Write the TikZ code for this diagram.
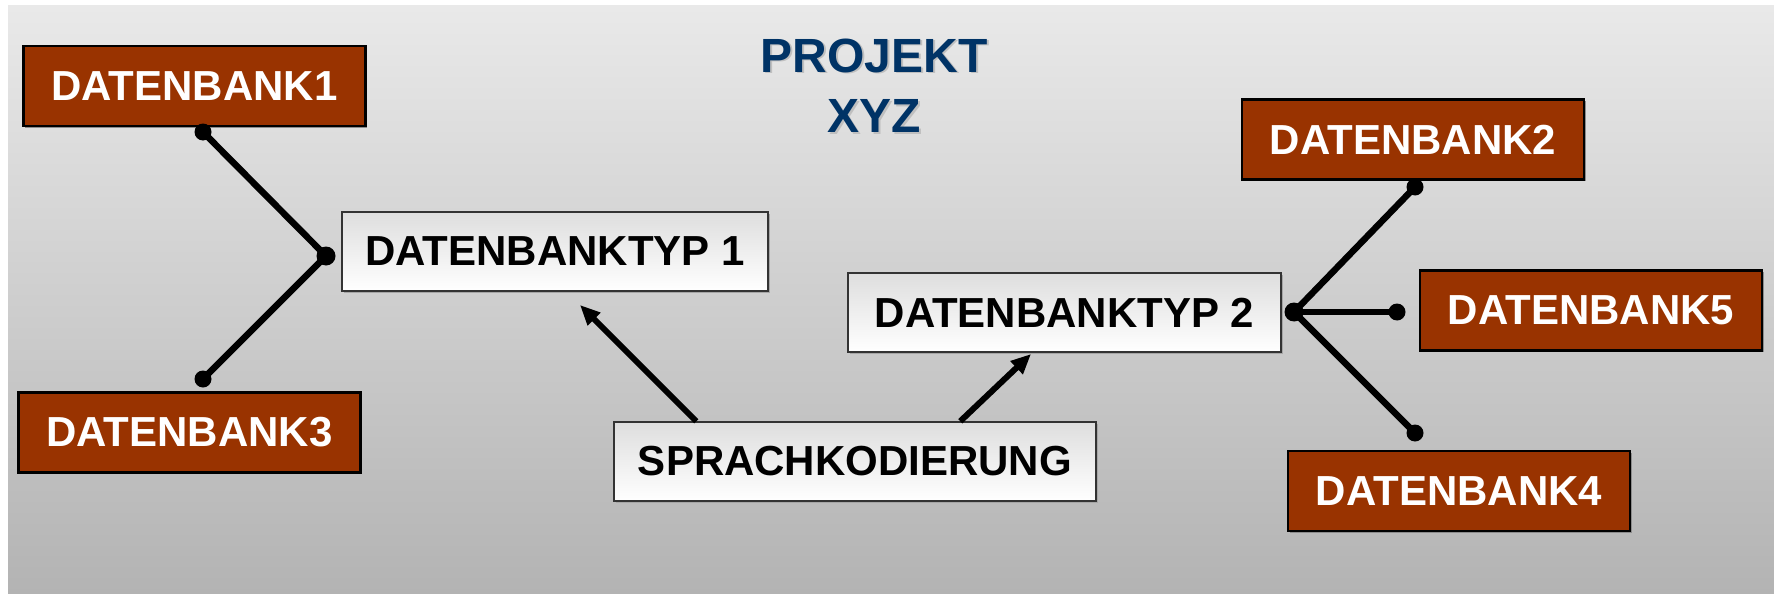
\documentclass[tikz,border=0pt]{standalone}
\usepackage{fontspec}
\setmainfont{Liberation Sans}
\usepackage{tikz}
\usetikzlibrary{arrows.meta, shadows}
\definecolor{dbbrown}{HTML}{993300}
\definecolor{titleblue}{HTML}{003366}
\definecolor{bgtop}{HTML}{E9E9E9}
\definecolor{bgbottom}{HTML}{B3B3B3}
\tikzstyle{dbbox} = [draw=black, line width=2.5pt, fill=dbbrown, text=white,
  font=\fontsize{42}{48}\selectfont\bfseries, inner sep=0pt,
  minimum width=342pt, minimum height=80pt,
  general shadow={fill=black!45, shadow xshift=1.5pt, shadow yshift=-1.5pt}]
\tikzstyle{typbox} = [draw=black!80, line width=1.5pt, top color=black!13, bottom color=white,
  font=\fontsize{42}{48}\selectfont\bfseries, inner sep=0pt, minimum height=79pt,
  general shadow={fill=black!35, shadow xshift=1.5pt, shadow yshift=-1.5pt}]
\tikzstyle{titletext} = [font=\fontsize{48}{52}\selectfont\bfseries, anchor=base]
\tikzstyle{link} = [line width=6.5pt]
\tikzstyle{arrow} = [line width=6pt, -{Triangle[length=20pt,width=17pt]}]
\begin{document}
\begin{tikzpicture}[x=1pt, y=-1pt]
  \useasboundingbox (0,0) rectangle (1774,594);
  % Background
  \fill[top color=bgtop, bottom color=bgbottom] (8,6) rectangle (1774,594);

  % Title with shadow
  \node[titletext, text=black!25] (titleAs) at (876,74) {PROJEKT};
  \node[titletext, text=black!25] (titleBs) at (876,134) {XYZ};
  \node[titletext, text=titleblue] (titleA) at (874,72) {PROJEKT};
  \node[titletext, text=titleblue] (titleB) at (874,132) {XYZ};

  % Databases
  \node[dbbox] (db1) at (194.5,86) {DATENBANK1};
  \node[dbbox] (db3) at (189.5,432.5) {DATENBANK3};
  \node[dbbox] (db2) at (1413,139.5) {DATENBANK2};
  \node[dbbox] (db5) at (1591,310.5) {DATENBANK5};
  \node[dbbox] (db4) at (1459,491) {DATENBANK4};

  % Database types and encoding
  \node[typbox, minimum width=426pt] (typ1) at (555,251.5) {DATENBANKTYP 1};
  \node[typbox, minimum width=433pt] (typ2) at (1064.5,312.5) {DATENBANKTYP 2};
  \node[typbox, minimum width=482pt] (sk) at (855,461.5) {SPRACHKODIERUNG};

  % Junctions and line ends
  \coordinate (j1) at (326,256);
  \coordinate (d1) at (203,132);
  \coordinate (d3) at (203,379);
  \coordinate (j2) at (1294,312);
  \coordinate (d2) at (1415,187);
  \coordinate (d5) at (1397,312);
  \coordinate (d4) at (1415,433);

  % Left group
  \draw[link] (j1) -- (d1);
  \draw[link] (j1) -- (d3);
  \fill (j1) circle (9.5pt);
  \fill (d1) circle (8.5pt);
  \fill (d3) circle (8.5pt);

  % Right group
  \draw[link] (j2) -- (d2);
  \draw[link] (j2) -- (d5);
  \draw[link] (j2) -- (d4);
  \fill (j2) circle (9.5pt);
  \fill (d2) circle (8.5pt);
  \fill (d5) circle (8.5pt);
  \fill (d4) circle (8.5pt);

  % Arrows from the encoding
  \coordinate (t1) at (580,305);
  \coordinate (t2) at (1031,354);
  \draw[arrow] ([xshift=83pt]sk.north west) -- (t1);
  \draw[arrow] ([xshift=347pt]sk.north west) -- (t2);
\end{tikzpicture}
\end{document}
